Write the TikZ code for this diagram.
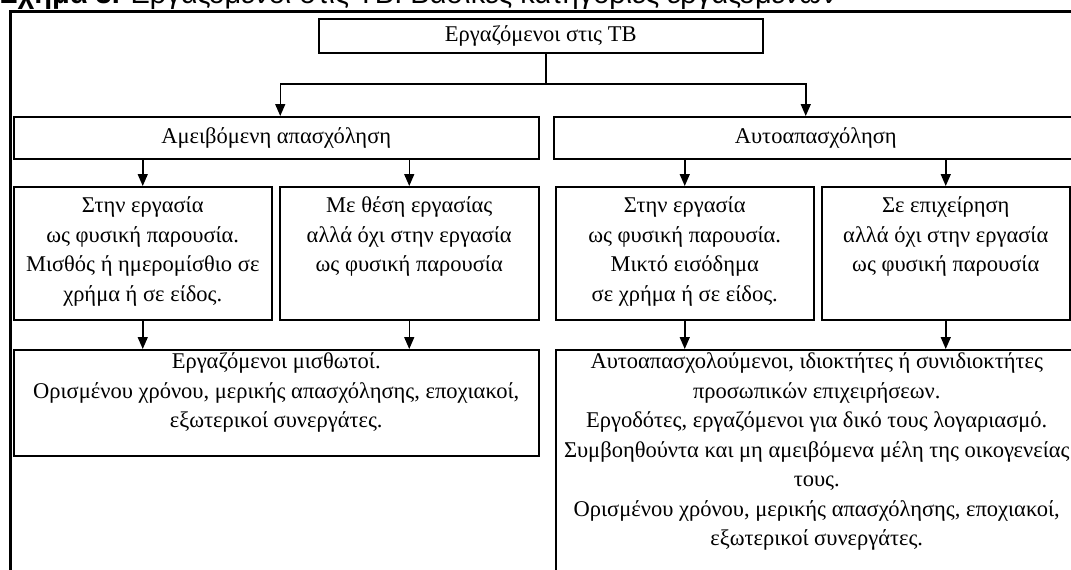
\documentclass[tikz,border=0pt]{standalone}
\usepackage{fontspec}
\setmainfont{Liberation Serif}
\newfontfamily\capfont{Liberation Sans}
\usetikzlibrary{arrows.meta}
\begin{document}
\begin{tikzpicture}[x=1pt,y=-1pt,
  box/.style={draw, line width=1.5pt, inner sep=0pt, anchor=north west,
              font=\fontsize{22.5}{29.5}\selectfont},
  txt/.style={font=\fontsize{22.5}{29.5}\selectfont, align=center, inner sep=0pt, anchor=north},
  arr/.style={line width=1.5pt, -{Triangle[width=10pt,length=12pt]}},
  link/.style={line width=1.5pt}]
\useasboundingbox (0,0) rectangle (1071,570);
\clip (0,0) rectangle (1071,570);

% caption (its upper part lies above the page) and frame
\node[anchor=base west, inner sep=0pt, font=\capfont\fontsize{29}{34}\selectfont] (caption) at (0,4)
  {\textbf{Σχήμα 3.} Εργαζόμενοι στις ΤΒ: Βασικές κατηγορίες εργαζομένων};
\draw[line width=3pt] (10,580) -- (10,11) -- (1090,11);

% top level
\node[box, minimum width=444pt, minimum height=34pt] (top) at (318,18) {Εργαζόμενοι στις ΤΒ};

% first split
\node[box, minimum width=525pt, minimum height=42pt] (amv) at (13,116) {Αμειβόμενη απασχόληση};
\node[box, minimum width=524pt, minimum height=42pt] (auto) at (553,116) {Αυτοαπασχόληση};

% second row
\node[box, minimum width=258pt, minimum height=133pt] (A) at (13,186) {};
\node[box, minimum width=259pt, minimum height=133pt] (B) at (279,186) {};
\node[box, minimum width=258pt, minimum height=133pt] (C) at (555,186) {};
\node[box, minimum width=248pt, minimum height=133pt] (D) at (821,186) {};

\node[txt] (At) at (A.north |- 0,192) {\strut Στην εργασία\\ ως φυσική παρουσία.\\ Μισθός ή ημερομίσθιο σε\\ χρήμα ή σε είδος.};
\node[txt] (Bt) at (B.north |- 0,192) {\strut Με θέση εργασίας\\ αλλά όχι στην εργασία\\ ως φυσική παρουσία};
\node[txt] (Ct) at (C.north |- 0,192) {\strut Στην εργασία\\ ως φυσική παρουσία.\\ Μικτό εισόδημα\\ σε χρήμα ή σε είδος.};
\node[txt] (Dt) at (D.north |- 0,192) {\strut Σε επιχείρηση\\ αλλά όχι στην εργασία\\ ως φυσική παρουσία};

% third row
\node[box, minimum width=525pt, minimum height=106pt] (L3) at (13,349) {};
\node[box, minimum width=522pt, minimum height=250pt] (R3) at (555,349) {};

\node[txt] (L3t) at (L3.north |- 0,348) {\strut Εργαζόμενοι μισθωτοί.\\ Ορισμένου χρόνου, μερικής απασχόλησης, εποχιακοί,\\ εξωτερικοί συνεργάτες.};
\node[txt] (R3t) at (R3.north |- 0,348) {\strut Αυτοαπασχολούμενοι, ιδιοκτήτες ή συνιδιοκτήτες\\ προσωπικών επιχειρήσεων.\\ Εργοδότες, εργαζόμενοι για δικό τους λογαριασμό.\\ Συμβοηθούντα και μη αμειβόμενα μέλη της οικογενείας\\ τους.\\ Ορισμένου χρόνου, μερικής απασχόλησης, εποχιακοί,\\ εξωτερικοί συνεργάτες.};

% connectors
\coordinate (split) at (546,84);
\draw[link] (top.south -| split) -- (split);
\draw[arr] (split) -| ([xshift=4pt]amv.north);
\draw[arr] (split) -| ([xshift=-10pt]auto.north);

\draw[arr] (amv.south -| A.north) -- (A.north);
\draw[arr] (amv.south -| B.north) -- (B.north);
\draw[arr] (auto.south -| C.north) -- (C.north);
\draw[arr] (auto.south -| D.north) -- (D.north);

\draw[arr] (A.south) -- (A.south |- L3.north);
\draw[arr] (B.south) -- (B.south |- L3.north);
\draw[arr] (C.south) -- (C.south |- R3.north);
\draw[arr] (D.south) -- (D.south |- R3.north);
\end{tikzpicture}
\end{document}
